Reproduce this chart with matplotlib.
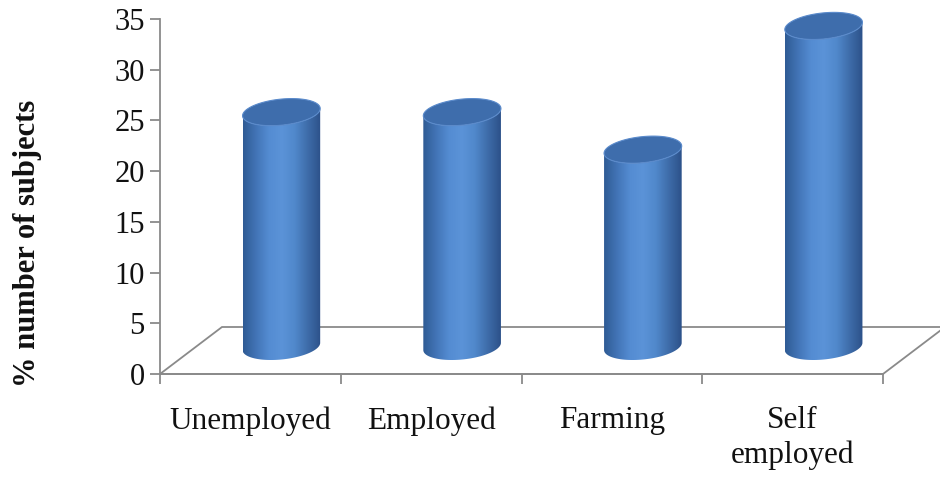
import numpy as np
import matplotlib
matplotlib.use("Agg")
import matplotlib.pyplot as plt
from matplotlib.patches import Polygon
from matplotlib.colors import LinearSegmentedColormap

categories = ["Unemployed", "Employed", "Farming", "Self\nemployed"]
values = [23.1, 23.1, 19.4, 31.6]
yticks = [0, 5, 10, 15, 20, 25, 30, 35]
ylabel = "% number of subjects"

W, H = 940, 480
fig = plt.figure(figsize=(9.4, 4.8), dpi=100)
ax_left_px, ax_bottom_px = 160, 106
px_per_x = 180.75
px_per_y = 10.143
ax_w_px = W - ax_left_px
ax_h_px = H - ax_bottom_px
ax = fig.add_axes([ax_left_px / W, ax_bottom_px / H, ax_w_px / W, ax_h_px / H])
ax.set_xlim(0, ax_w_px / px_per_x)
ax.set_ylim(0, ax_h_px / px_per_y)
ax.patch.set_alpha(0)

gray = "#8a8a8a"
for s in ["top", "right"]:
    ax.spines[s].set_visible(False)
ax.spines["left"].set_bounds(0, 35)
ax.spines["bottom"].set_bounds(0, len(categories))
for s in ["left", "bottom"]:
    ax.spines[s].set_color(gray)
    ax.spines[s].set_linewidth(1.3)

serif = ["Liberation Serif", "DejaVu Serif"]
ax.set_yticks(yticks)
ax.set_yticklabels([str(v) for v in yticks], fontsize=22, family=serif, color="#111111")
ax.set_xticks(np.arange(len(categories) + 1))
ax.set_xticklabels([])
ax.tick_params(axis="both", color=gray, width=1.3, length=7)
ax.tick_params(axis="y", pad=4)

# category labels
for i, c in enumerate(categories):
    ax.text(i + 0.5, -3.2, c, ha="center", va="top", fontsize=22.5,
            family=serif, color="#111111", linespacing=1.22, clip_on=False)

fig.text(28 / W, 1 - 243 / H, ylabel, rotation=90, ha="center", va="center",
         fontsize=22, fontweight="bold", family=serif, color="#111111")

# floor (3D depth)
dx = 62 / px_per_x
dy = 47 / px_per_y
n = len(categories)
floor = Polygon([(0, 0), (n, 0), (n + dx, dy), (dx, dy)], closed=True,
                facecolor="white", edgecolor=gray, lw=1.3, clip_on=False, zorder=1)
ax.add_patch(floor)

# cylinders
a_px, b_px, theta = 39.0, 13.0, np.deg2rad(6)
t = np.linspace(0, 2 * np.pi, 721)
ex_px = a_px * np.cos(t) * np.cos(theta) - b_px * np.sin(t) * np.sin(theta)
ey_px = a_px * np.cos(t) * np.sin(theta) + b_px * np.sin(t) * np.cos(theta)
ex = ex_px / px_per_x
ey = ey_px / px_per_y
il, ir = np.argmin(ex), np.argmax(ex)

cmap = LinearSegmentedColormap.from_list(
    "cyl", ["#2f5b94", "#4274b6", "#548cd2", "#5b93d8", "#5088cb", "#3e6ca9", "#2c5189"])
grad = np.linspace(0, 1, 256).reshape(1, -1)


def arc(i0, i1, direction):
    idx = []
    i = i0
    while True:
        idx.append(i)
        if i == i1:
            break
        i = (i + direction) % (len(t) - 1)
    return np.array(idx)


low_idx_a = arc(il, ir, 1)
low_idx_b = arc(il, ir, -1)
low_idx = low_idx_a if ey[low_idx_a].mean() < ey[low_idx_b].mean() else low_idx_b

for i, v in enumerate(values):
    cx = i + 0.5 + dx / 2
    by = dy / 2 + 0.4
    ty = by + v
    pts = [(cx + ex[il], ty + ey[il]), (cx + ex[il], by + ey[il])]
    pts += [(cx + ex[k], by + ey[k]) for k in low_idx]
    pts += [(cx + ex[ir], ty + ey[ir])]
    pts += [(cx + ex[k], ty + ey[k]) for k in low_idx[::-1]]
    body = Polygon(pts, closed=True, facecolor="none", edgecolor="none", zorder=2)
    ax.add_patch(body)
    im = ax.imshow(grad, cmap=cmap, aspect="auto", interpolation="bicubic",
                   extent=(cx + ex[il], cx + ex[ir], by + ey.min(), ty + ey.max()),
                   zorder=2)
    im.set_clip_path(body)
    top = Polygon(np.column_stack([cx + ex, ty + ey]), closed=True,
                  facecolor="#3e6dac", edgecolor="#5a8acb", lw=0.8, zorder=3,
                  clip_on=False)
    ax.add_patch(top)

ax.set_xlim(0, ax_w_px / px_per_x)
ax.set_ylim(0, ax_h_px / px_per_y)
fig.savefig("out.png", dpi=100, facecolor="white")
